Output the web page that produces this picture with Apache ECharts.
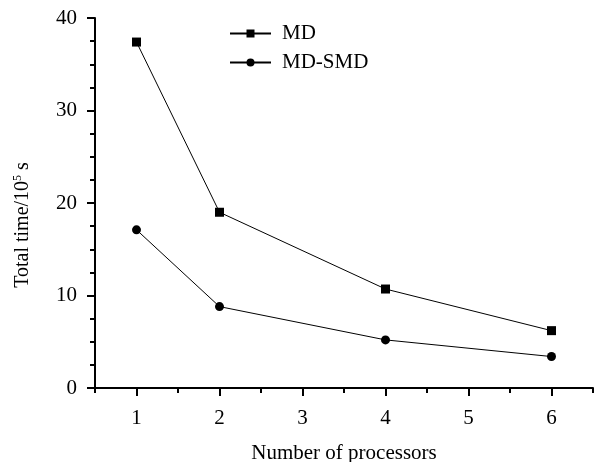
<!DOCTYPE html>
<html>
<head>
<meta charset="utf-8">
<style>html,body{margin:0;padding:0;background:#fff}#c{width:600px;height:462px}</style>
<script src="https://cdn.jsdelivr.net/npm/echarts@6/dist/echarts.min.js"></script>
</head>
<body>
<div id="c"></div>
<script>
var processors = [1, 2, 4, 6];
var mdValues = [37.4, 19.0, 10.7, 6.2];
var mdSmdValues = [17.1, 8.8, 5.2, 3.4];
var xTickLabels = [1, 2, 3, 4, 5, 6];
var yTickLabels = [0, 10, 20, 30, 40];
var seriesNames = ['MD', 'MD-SMD'];

var FONT = 'Liberation Serif';
var chart = echarts.init(document.getElementById('c'));
function pairs(xs, ys) { return xs.map(function (x, i) { return [x, ys[i]]; }); }
var axisLine = { show: true, lineStyle: { color: '#000', width: 2 } };

chart.setOption({
  animation: false,
  backgroundColor: '#fff',
  grid: { left: 95, right: 7, top: 18, bottom: 74, containLabel: false, outerBoundsMode: 'none' },
  legend: {
    orient: 'vertical', left: 224, top: 18, itemWidth: 41, itemHeight: 10, itemGap: 8,
    data: seriesNames,
    textStyle: { fontFamily: FONT, fontSize: 21, color: '#000', padding: [0, 0, 0, 6] }
  },
  xAxis: [{
    type: 'value', min: 0.5, max: 6.5, interval: 0.5,
    name: 'Number of processors', nameLocation: 'middle', nameGap: 55,
    nameTextStyle: { fontFamily: FONT, fontSize: 21, color: '#000' },
    axisLine: axisLine,
    splitLine: { show: false },
    axisTick: { show: true, length: 5, lineStyle: { color: '#000', width: 2 } },
    axisLabel: {
      customValues: xTickLabels, margin: 20,
      fontFamily: FONT, fontSize: 21, color: '#000'
    }
  }, {
    type: 'value', min: 0.5, max: 6.5, interval: 0.5, position: 'bottom',
    axisLine: { show: false }, splitLine: { show: false }, axisLabel: { show: false },
    axisTick: { show: true, customValues: xTickLabels, length: 8, lineStyle: { color: '#000', width: 2 } }
  }],
  yAxis: {
    type: 'value', min: 0, max: 40, interval: 10,
    name: 'Total time/10{sup|5} s', nameLocation: 'middle', nameGap: 62, nameRotate: 90,
    nameTextStyle: {
      fontFamily: FONT, fontSize: 20, color: '#000', padding: [0, 44, 0, 0],
      rich: { sup: { fontFamily: FONT, fontSize: 12, color: '#000', verticalAlign: 'top', padding: [0, 0, 9, 0] } }
    },
    axisLine: axisLine,
    splitLine: { show: false },
    axisTick: { show: true, length: 8, lineStyle: { color: '#000', width: 2 } },
    minorTick: { show: true, splitNumber: 4, length: 5, lineStyle: { color: '#000', width: 2 } },
    minorSplitLine: { show: false },
    axisLabel: {
      customValues: yTickLabels, margin: 18,
      fontFamily: FONT, fontSize: 21, color: '#000'
    }
  },
  series: [{
    name: seriesNames[0], type: 'line', data: pairs(processors, mdValues),
    symbol: 'rect', symbolSize: 9,
    lineStyle: { color: '#000', width: 1 }, itemStyle: { color: '#000' }
  }, {
    name: seriesNames[1], type: 'line', data: pairs(processors, mdSmdValues),
    symbol: 'circle', symbolSize: 9,
    lineStyle: { color: '#000', width: 1 }, itemStyle: { color: '#000' }
  }]
});
</script>
</body>
</html>
